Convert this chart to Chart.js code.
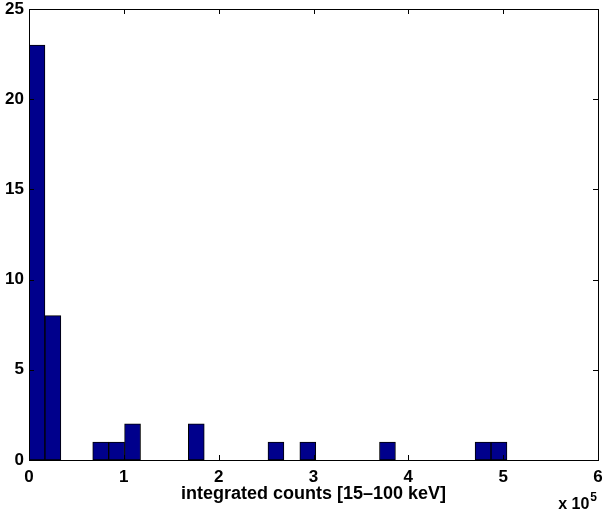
<!DOCTYPE html>
<html>
<head>
<meta charset="utf-8">
<title>integrated counts histogram</title>
<script src="https://cdn.jsdelivr.net/npm/chart.js@4/dist/chart.umd.min.js"></script>
<style>
    html, body { margin: 0; padding: 0; background: #ffffff; }
    #wrap { width: 603px; height: 516px; }
</style>
</head>
<body>
<div id="wrap"><canvas id="mainChart" width="603" height="516"></canvas></div>
<script>
// bin centres, in units of 1e5 counts (30 bins of width 0.168)
const binCenters = [
    0.084, 0.252, 0.420, 0.588, 0.756, 0.924, 1.092, 1.260, 1.428, 1.596,
    1.764, 1.932, 2.100, 2.268, 2.436, 2.604, 2.772, 2.940, 3.108, 3.276,
    3.444, 3.612, 3.780, 3.948, 4.116, 4.284, 4.452, 4.620, 4.788, 4.956
];
const binCounts = [
    23, 8, 0, 0, 1, 1, 2, 0, 0, 0,
    2, 0, 0, 0, 0, 1, 0, 1, 0, 0,
    0, 0, 1, 0, 0, 0, 0, 0, 1, 1
];
const xTicks = [0, 1, 2, 3, 4, 5, 6];
const yTicks = [0, 5, 10, 15, 20, 25];
const xTitle = 'integrated counts [15\u2013100 keV]';

const FONT = '"Liberation Sans", Arial, Helvetica, sans-serif';

document.addEventListener('DOMContentLoaded', () => {
    // ========================================
    // AXES BOX - matlab style, ticks pointing in
    // ========================================
    const boxAxes = {
        id: 'boxAxes',
        afterDatasetsDraw(chart) {
            const { ctx, chartArea: a, scales: { x, y } } = chart;
            const tick = 5;
            ctx.save();
            ctx.strokeStyle = '#000000';
            ctx.lineWidth = 1;
            ctx.beginPath();
            xTicks.forEach(v => {
                const px = Math.round(x.getPixelForValue(v)) + 0.5;
                ctx.moveTo(px, a.bottom); ctx.lineTo(px, a.bottom - tick);
                ctx.moveTo(px, a.top); ctx.lineTo(px, a.top + tick);
            });
            yTicks.forEach(v => {
                const py = Math.round(y.getPixelForValue(v)) + 0.5;
                ctx.moveTo(a.left, py); ctx.lineTo(a.left + tick, py);
                ctx.moveTo(a.right, py); ctx.lineTo(a.right - tick, py);
            });
            ctx.stroke();
            ctx.strokeRect(Math.round(a.left) + 0.5, Math.round(a.top) + 0.5,
                Math.round(a.right - a.left), Math.round(a.bottom - a.top));

            // exponent label under the right end of the x axis
            ctx.fillStyle = '#000000';
            ctx.textBaseline = 'alphabetic';
            ctx.textAlign = 'right';
            ctx.font = 'bold 12px ' + FONT;
            ctx.fillText('5', a.right - 1, a.bottom + 41);
            const w5 = ctx.measureText('5').width;
            ctx.font = 'bold 16px ' + FONT;
            ctx.fillText('x 10', a.right - 2 - w5, a.bottom + 49);
            ctx.restore();
        }
    };

    // ========================================
    // CHART INITIALIZATION
    // ========================================
    const ctx = document.getElementById('mainChart').getContext('2d');

    new Chart(ctx, {
        type: 'bar',
        data: {
            datasets: [{
                label: 'bursts',
                data: binCenters.map((c, i) => ({ x: c, y: binCounts[i] })),
                backgroundColor: 'rgb(0, 0, 140)',
                borderColor: '#000000',
                borderWidth: 1,
                borderSkipped: false,
                barPercentage: 1,
                categoryPercentage: 1
            }]
        },
        options: {
            responsive: false,
            animation: false,
            layout: { padding: { left: 0, right: 5, top: 9, bottom: 0 } },
            plugins: {
                legend: { display: false },
                tooltip: { enabled: false }
            },
            scales: {
                x: {
                    type: 'linear',
                    offset: false,
                    min: 0,
                    max: 6,
                    afterBuildTicks: s => { s.ticks = xTicks.map(v => ({ value: v })); },
                    afterFit: s => {
                        s.height = 56;
                        s.paddingLeft = 0;
                        s.paddingRight = 0;
                    },
                    grid: { display: false, drawTicks: false },
                    border: { display: false },
                    ticks: {
                        color: '#000000',
                        padding: 7,
                        maxRotation: 0,
                        font: { family: FONT, size: 17, weight: 'bold' }
                    },
                    title: {
                        display: true,
                        text: xTitle,
                        color: '#000000',
                        padding: { top: 0, bottom: 11 },
                        font: { family: FONT, size: 18, weight: 'bold' }
                    }
                },
                y: {
                    min: 0,
                    max: 25,
                    afterBuildTicks: s => { s.ticks = yTicks.map(v => ({ value: v })); },
                    afterFit: s => {
                        s.width = 29;
                        s.paddingTop = 0;
                        s.paddingBottom = 0;
                    },
                    grid: { display: false, drawTicks: false },
                    border: { display: false },
                    ticks: {
                        color: '#000000',
                        padding: 5,
                        font: { family: FONT, size: 17, weight: 'bold' }
                    }
                }
            }
        },
        plugins: [boxAxes]
    });
});
</script>
</body>
</html>
